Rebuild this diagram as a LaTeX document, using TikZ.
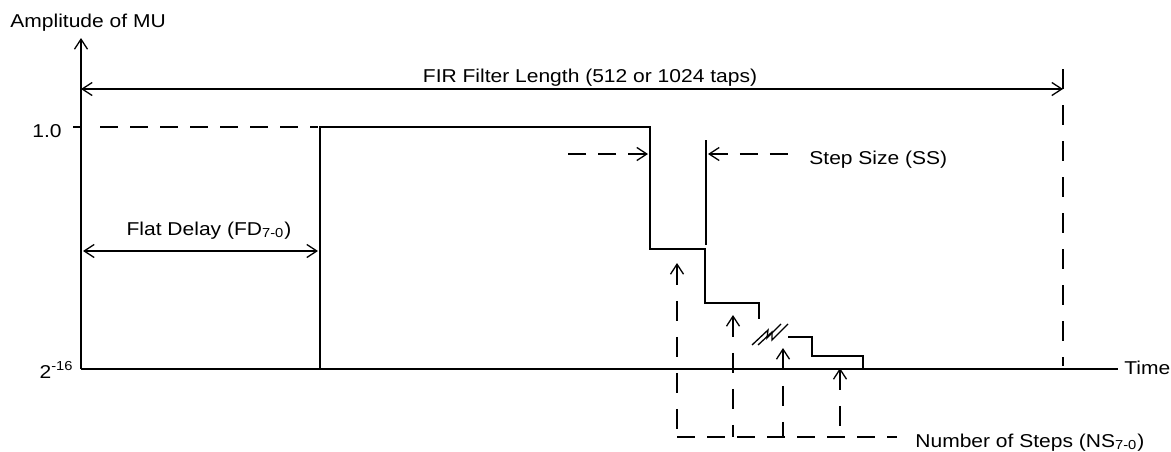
\documentclass[tikz,border=0pt]{standalone}
\usepackage{fontspec}
\setmainfont[FakeStretch=1.13]{Liberation Sans}
\usetikzlibrary{arrows.meta}
\begin{document}
\begin{tikzpicture}
[
 x=0.5pt, y=-0.5pt,
 every node/.style={font=\fontsize{9.3}{11}\selectfont, inner sep=0pt},
 LINE/.style={line width=0.65pt},
 DASH/.style={LINE, dash pattern=on 9pt off 6pt},
 VDASH/.style={LINE, dash pattern=on 10pt off 8pt},
 TIP/.style={{Straight Barb[length=5pt,width=6.5pt]}-},
 BOTH/.style={{Straight Barb[length=5pt,width=6.5pt]}-{Straight Barb[length=5pt,width=6.5pt]}},
 ],
%
\useasboundingbox (0,0) rectangle (1171,451);
%
\node [anchor=base west]  (AMP)  at (10,27)    {Amplitude of MU};
\node [anchor=base east]  (ONE)  at (62,137)   {1.0};
\node [anchor=base east]  (LOW)  at (74,378)   {2\textsuperscript{-16}};
\node [anchor=base]       (FIR)  at (590,82)   {FIR Filter Length (512 or 1024 taps)};
\node [anchor=base]       (FD)   at (209,235)  {Flat Delay (FD\textsubscript{7-0})};
\node [anchor=base west]  (SS)   at (809,164)  {Step Size (SS)};
\node [anchor=base west]  (NS)   at (915,447)  {Number of Steps (NS\textsubscript{7-0})};
\node [anchor=west]       (TIME) at (1124,368) {Time};
%
\coordinate (O)    at (81,369);
\coordinate (YTOP) at (81,38);
\coordinate (XEND) at (1118,369);
%
% axes
\draw [LINE, TIP]  (YTOP) -- (O);
\draw [LINE]       (O) -- (XEND);
\draw [LINE]       (73,127) -- (81,127);
\draw [DASH]       (100,127) -- (318,127);
%
% mu profile
\draw [LINE]  (O) -- (320,369) -- (320,127) -- (650,127) -- (650,249)
              -- (705,249) -- (705,303) -- (759,303) -- (759,319);
\draw [LINE]  (788,337) -- (812,337) -- (812,356) -- (863,356) -- (863,369);
\draw [LINE]  (752,345) -- (768,330) -- (767,338) -- (781,324);
\draw [LINE]  (758,345) -- (772,332) -- (772,340) -- (788,324);
%
% filter length and flat delay
\draw [LINE, BOTH]  (81,89) -- (1063,89);
\draw [VDASH]       (1063,69) -- (1063,366);
\draw [LINE, BOTH]  (83,251) -- (318,251);
%
% step size
\draw [LINE]       (706,140) -- (706,245);
\draw [DASH, TIP]  (648,154) -- (565,154);
\draw [DASH, TIP]  (708,154) -- (795,154);
%
% number of steps
\foreach \x/\t in {677/263, 733/315, 783/348, 840/368}
  {
    \draw [VDASH, TIP]  (\x,\t) -- (\x,437);
  }
\draw [DASH]  (677,437) -- (897,437);
%
\end{tikzpicture}
\end{document}
